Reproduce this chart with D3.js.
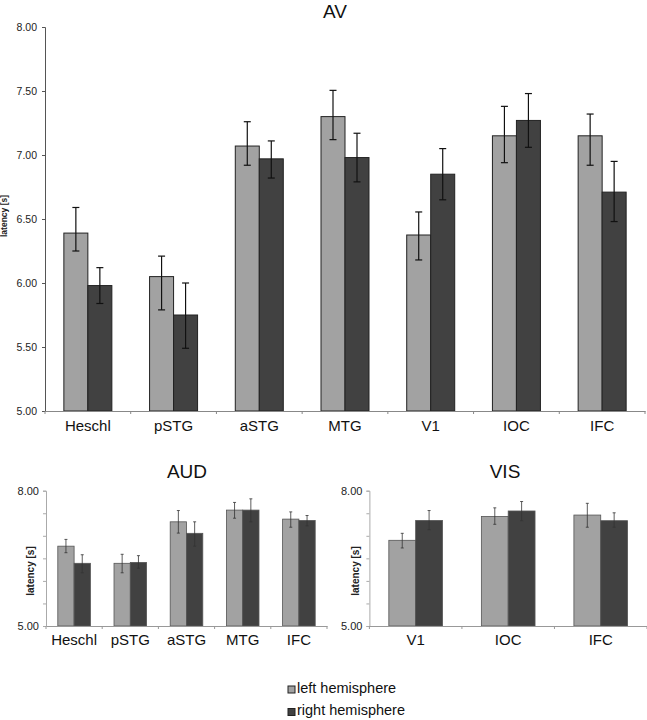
<!DOCTYPE html>
<html>
<head>
<meta charset="utf-8">
<script src="https://cdn.jsdelivr.net/npm/d3@7"></script>
<style>
  html, body { margin: 0; padding: 0; background: #fff; }
  svg { display: block; font-family: "Liberation Sans", Arial, sans-serif; }
</style>
</head>
<body>
<svg id="chart" width="647" height="720"></svg>
<script>
// ---------- DATA ----------
const seriesNames = ["left hemisphere", "right hemisphere"];

const avCategories = ["Heschl", "pSTG", "aSTG", "MTG", "V1", "IOC", "IFC"];
const avLeft      = [6.39, 6.05, 7.07, 7.30, 6.375, 7.15, 7.15];
const avRight     = [5.98, 5.75, 6.97, 6.98, 6.85, 7.27, 6.71];
const avLeftHi    = [6.59, 6.21, 7.26, 7.505, 6.555, 7.38, 7.32];
const avLeftLo    = [6.25, 5.79, 6.92, 7.12, 6.18, 6.94, 6.92];
const avRightHi   = [6.12, 6.00, 7.11, 7.17, 7.05, 7.48, 6.95];
const avRightLo   = [5.84, 5.49, 6.82, 6.79, 6.65, 7.06, 6.48];

const audCategories = ["Heschl", "pSTG", "aSTG", "MTG", "IFC"];
const audLeft     = [6.77, 6.39, 7.31, 7.57, 7.37];
const audRight    = [6.39, 6.41, 7.055, 7.57, 7.34];
const audLeftHi   = [6.92, 6.59, 7.56, 7.74, 7.53];
const audLeftLo   = [6.625, 6.18, 7.06, 7.39, 7.19];
const audRightHi  = [6.58, 6.56, 7.31, 7.82, 7.45];
const audRightLo  = [6.18, 6.28, 6.77, 7.31, 7.22];

const visCategories = ["V1", "IOC", "IFC"];
const visLeft     = [6.90, 7.43, 7.46];
const visRight    = [7.34, 7.55, 7.335];
const visLeftHi   = [7.055, 7.62, 7.72];
const visLeftLo   = [6.73, 7.255, 7.19];
const visRightHi  = [7.56, 7.76, 7.51];
const visRightLo  = [7.135, 7.335, 7.19];

const yTicks = [5.0, 5.5, 6.0, 6.5, 7.0, 7.5, 8.0];
const yLabelsSmall = [5.0, 8.0];
const yDomain = [5.0, 8.0];

// ---------- DRAW ----------
const svg = d3.select("#chart");
const fillLeft = "#a2a2a2", fillRight = "#414141";

function drawPanel(o) {
  const x = d3.scaleBand().domain(o.categories).range([o.x0, o.x1]).padding(0);
  const y = d3.scaleLinear().domain(yDomain).range([o.y1, o.y0]);
  const g = svg.append("g");
  const bw = x.bandwidth() * o.groupFrac / 2;

  // title
  g.append("text").attr("x", o.titleX).attr("y", o.titleY)
    .attr("text-anchor", "middle").attr("font-size", o.titleSize).attr("fill", "#111")
    .text(o.title);

  // y axis
  const yAxis = d3.axisLeft(y).tickValues(yTicks).tickSize(3).tickPadding(o.tickPad)
    .tickFormat(d => o.labels.includes(d) ? d.toFixed(2) : "");
  const ya = g.append("g").attr("transform", `translate(${o.x0},0)`).call(yAxis);
  ya.select(".domain").attr("stroke", o.yAxisColor).attr("stroke-width", 1);
  ya.selectAll(".tick line").attr("stroke", o.yAxisColor);
  ya.selectAll(".tick text").attr("font-size", o.yTickSize).attr("fill", "#222")
    .attr("font-family", "Liberation Sans, Arial, sans-serif");

  // y label
  g.append("text")
    .attr("transform", `translate(${o.yLabelX},${o.yLabelY}) rotate(-90)`)
    .attr("text-anchor", "middle").attr("dominant-baseline", "middle")
    .attr("font-size", o.yLabelSize).attr("font-weight", "bold").attr("fill", "#222")
    .text("latency [s]");

  // bars
  const rows = o.categories.map((c, i) => ({
    c, vals: [
      { v: o.left[i], hi: o.leftHi[i], lo: o.leftLo[i], k: 0 },
      { v: o.right[i], hi: o.rightHi[i], lo: o.rightLo[i], k: 1 }
    ]
  }));
  const grp = g.selectAll(".grp").data(rows).enter().append("g");
  grp.selectAll("rect").data(d => d.vals.map(v => ({ ...v, c: d.c }))).enter().append("rect")
    .attr("x", d => x(d.c) + x.bandwidth() / 2 - bw + d.k * bw)
    .attr("y", d => y(d.v))
    .attr("width", bw)
    .attr("height", d => y(yDomain[0]) - y(d.v))
    .attr("fill", d => d.k === 0 ? fillLeft : fillRight)
    .attr("stroke", o.barStroke).attr("stroke-width", o.barStrokeW);

  // error bars
  const eb = grp.selectAll(".eb").data(d => d.vals.map(v => ({ ...v, c: d.c }))).enter().append("g");
  const cx = d => x(d.c) + x.bandwidth() / 2 - bw / 2 + d.k * bw;
  eb.append("line").attr("x1", cx).attr("x2", cx)
    .attr("y1", d => y(d.hi)).attr("y2", d => y(d.lo))
    .attr("stroke", o.errColor).attr("stroke-width", o.errW);
  eb.append("line").attr("x1", d => cx(d) - o.cap).attr("x2", d => cx(d) + o.cap)
    .attr("y1", d => y(d.hi)).attr("y2", d => y(d.hi))
    .attr("stroke", o.errColor).attr("stroke-width", o.errW);
  eb.append("line").attr("x1", d => cx(d) - o.cap).attr("x2", d => cx(d) + o.cap)
    .attr("y1", d => y(d.lo)).attr("y2", d => y(d.lo))
    .attr("stroke", o.errColor).attr("stroke-width", o.errW);

  // x axis
  const xAxis = d3.axisBottom(x).tickSize(0).tickPadding(o.xPad);
  const xa = g.append("g").attr("transform", `translate(0,${o.y1})`).call(xAxis);
  xa.select(".domain").attr("stroke", o.xAxisColor).attr("stroke-width", 1);
  xa.selectAll(".tick text").attr("font-size", o.xTickSize).attr("fill", "#111")
    .attr("font-family", "Liberation Sans, Arial, sans-serif");
  // boundary ticks
  const bounds = o.categories.map(c => x(c)).concat([o.x1]);
  g.selectAll(".bt").data(bounds).enter().append("line")
    .attr("x1", d => d).attr("x2", d => d)
    .attr("y1", o.y1).attr("y2", o.y1 + 3)
    .attr("stroke", o.xAxisColor);
}

drawPanel({
  title: "AV", titleX: 335, titleY: 18, titleSize: 19,
  categories: avCategories, left: avLeft, right: avRight,
  leftHi: avLeftHi, leftLo: avLeftLo, rightHi: avRightHi, rightLo: avRightLo,
  x0: 45, x1: 645, y0: 27, y1: 411, groupFrac: 0.56,
  labels: yTicks, yTickSize: 10.5, tickPad: 5, yAxisColor: "#555",
  yLabelX: 5, yLabelY: 216, yLabelSize: 8.5,
  barStroke: "#222", barStrokeW: 1, errColor: "#111", errW: 1.2, cap: 3.5,
  xAxisColor: "#888", xTickSize: 15, xPad: 9
});

drawPanel({
  title: "AUD", titleX: 187, titleY: 478, titleSize: 19,
  categories: audCategories, left: audLeft, right: audRight,
  leftHi: audLeftHi, leftLo: audLeftLo, rightHi: audRightHi, rightLo: audRightLo,
  x0: 46, x1: 327, y0: 490.7, y1: 626, groupFrac: 0.58,
  labels: yLabelsSmall, yTickSize: 11, tickPad: 4, yAxisColor: "#aaa",
  yLabelX: 31, yLabelY: 571, yLabelSize: 10,
  barStroke: "#555", barStrokeW: 0.8, errColor: "#333", errW: 0.8, cap: 1.5,
  xAxisColor: "#999", xTickSize: 15, xPad: 8
});

drawPanel({
  title: "VIS", titleX: 505, titleY: 478, titleSize: 19,
  categories: visCategories, left: visLeft, right: visRight,
  leftHi: visLeftHi, leftLo: visLeftLo, rightHi: visRightHi, rightLo: visRightLo,
  x0: 369.4, x1: 647, y0: 490.7, y1: 626, groupFrac: 0.58,
  labels: yLabelsSmall, yTickSize: 11, tickPad: 4, yAxisColor: "#aaa",
  yLabelX: 356, yLabelY: 571, yLabelSize: 10,
  barStroke: "#555", barStrokeW: 0.8, errColor: "#333", errW: 0.8, cap: 1.5,
  xAxisColor: "#999", xTickSize: 15, xPad: 8
});

// legend
const leg = svg.append("g").attr("transform", "translate(288,686)");
const li = leg.selectAll("g").data(seriesNames).enter().append("g")
  .attr("transform", (d, i) => `translate(0,${i * 22.5})`);
li.append("rect").attr("width", 7).attr("height", 7)
  .attr("fill", (d, i) => i === 0 ? fillLeft : fillRight)
  .attr("stroke", "#222").attr("stroke-width", 1);
li.append("text").attr("x", 9).attr("y", 6.5).attr("font-size", 14.5).attr("fill", "#111")
  .text(d => d);
</script>
</body>
</html>
